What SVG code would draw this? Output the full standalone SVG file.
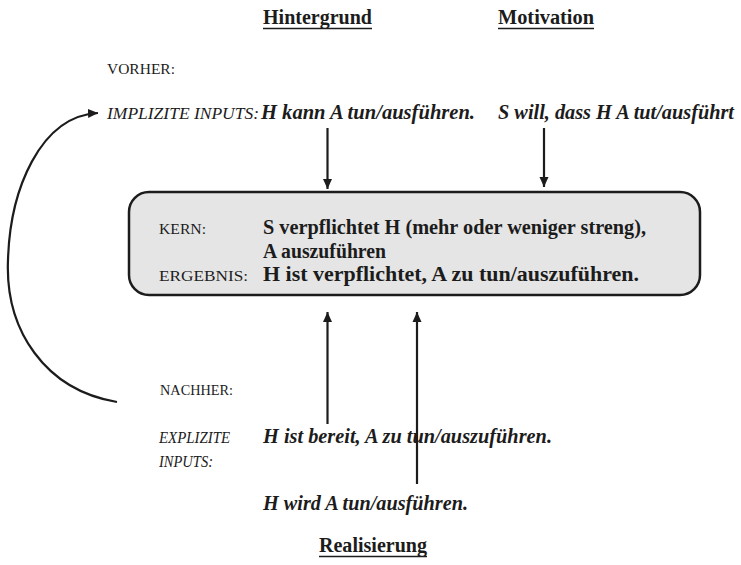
<svg xmlns="http://www.w3.org/2000/svg" width="741" height="565" viewBox="0 0 741 565">
  <style>
    text { font-family: "Liberation Serif", "Times New Roman", serif; fill: #1c1c1c; }
    .head { font-size: 20px; font-weight: bold; }
    .lab { font-size: 15.5px; }
    .labi { font-size: 16px; font-style: italic; }
    .main { font-size: 22px; font-weight: bold; font-style: italic; }
    .core { font-size: 20px; font-weight: bold; }
    .ul { stroke: #1c1c1c; stroke-width: 1.6; }
    .conn { fill: none; stroke: #1c1c1c; stroke-width: 2.2; }
  </style>
  <defs>
    <marker id="arrow" markerUnits="userSpaceOnUse" markerWidth="11" markerHeight="10" refX="10" refY="5" orient="auto">
      <path d="M0,0.5 L10,5 L0,9.5 z" fill="#1c1c1c"/>
    </marker>
  </defs>
  <rect width="741" height="565" fill="#ffffff"/>

  <!-- column headings -->
  <g id="heading-hintergrund">
    <text class="head" x="263" y="24" textLength="109" lengthAdjust="spacingAndGlyphs">Hintergrund</text>
    <line class="ul" x1="263" y1="28.5" x2="372" y2="28.5"/>
  </g>
  <g id="heading-motivation">
    <text class="head" x="498" y="24" textLength="96" lengthAdjust="spacingAndGlyphs">Motivation</text>
    <line class="ul" x1="498" y1="28.5" x2="594" y2="28.5"/>
  </g>

  <!-- before -->
  <g id="vorher">
    <text class="lab" x="107" y="74" textLength="68" lengthAdjust="spacingAndGlyphs">VORHER:</text>
  </g>
  <g id="implizite-inputs">
    <text class="labi" x="107" y="119" textLength="152" lengthAdjust="spacingAndGlyphs">IMPLIZITE INPUTS:</text>
  </g>
  <g id="input-hintergrund">
    <text class="main" x="261" y="119" textLength="214" lengthAdjust="spacingAndGlyphs">H kann A tun/ausführen.</text>
  </g>
  <g id="input-motivation">
    <text class="main" x="498" y="119" style="font-size:20px" textLength="236" lengthAdjust="spacingAndGlyphs">S will, dass H A tut/ausführt</text>
  </g>

  <!-- core box -->
  <g id="kern">
    <rect x="129" y="192" width="571" height="103" rx="20" ry="20" fill="#e5e5e5" stroke="#1c1c1c" stroke-width="2.5"/>
    <text class="lab" x="159" y="234" textLength="47" lengthAdjust="spacingAndGlyphs">KERN:</text>
    <text class="core" x="263" y="234" textLength="383" lengthAdjust="spacingAndGlyphs">S verpflichtet H (mehr oder weniger streng),</text>
    <text class="core" x="263" y="258" textLength="123" lengthAdjust="spacingAndGlyphs">A auszuführen</text>
    <text class="lab" x="159" y="281" textLength="89" lengthAdjust="spacingAndGlyphs">ERGEBNIS:</text>
    <text class="core" x="263" y="281" textLength="376" lengthAdjust="spacingAndGlyphs">H ist verpflichtet, A zu tun/auszuführen.</text>
  </g>

  <!-- after -->
  <g id="nachher">
    <text class="lab" x="160" y="395" textLength="73" lengthAdjust="spacingAndGlyphs">NACHHER:</text>
  </g>
  <g id="explizite-inputs">
    <text class="labi" x="159" y="443" textLength="71" lengthAdjust="spacingAndGlyphs">EXPLIZITE</text>
    <text class="labi" x="159" y="467" textLength="54" lengthAdjust="spacingAndGlyphs">INPUTS:</text>
  </g>
  <g id="input-bereit">
    <text class="main" x="263" y="443" textLength="289" lengthAdjust="spacingAndGlyphs">H ist bereit, A zu tun/auszuführen.</text>
  </g>
  <g id="input-realisierung">
    <text class="main" x="263" y="510" textLength="205" lengthAdjust="spacingAndGlyphs">H wird A tun/ausführen.</text>
  </g>
  <g id="heading-realisierung">
    <text class="head" x="319" y="552" textLength="108" lengthAdjust="spacingAndGlyphs">Realisierung</text>
    <line class="ul" x1="319" y1="556.5" x2="427" y2="556.5"/>
  </g>

  <!-- connectors -->
  <g id="connectors">
    <line class="conn" x1="327.5" y1="128" x2="327.5" y2="189" marker-end="url(#arrow)"/>
    <line class="conn" x1="544" y1="128" x2="544" y2="187" marker-end="url(#arrow)"/>
    <line class="conn" x1="327.5" y1="424" x2="327.5" y2="312" marker-end="url(#arrow)"/>
    <line class="conn" x1="417" y1="484" x2="417" y2="312" marker-end="url(#arrow)"/>
    <path class="conn" d="M117,402 C45,390 5,330 8,260 C10,190 40,116 98,113" marker-end="url(#arrow)"/>
  </g>
</svg>
